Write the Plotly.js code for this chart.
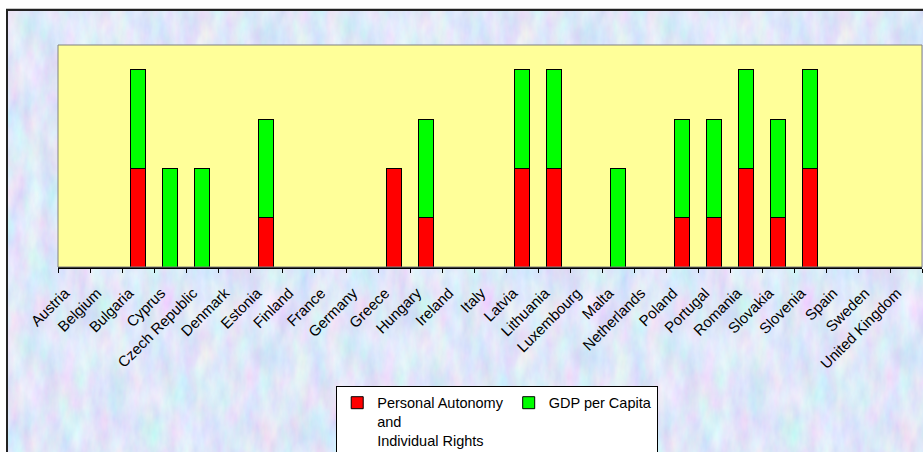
<!DOCTYPE html>
<html>
<head>
<meta charset="utf-8">
<script src="https://cdn.plot.ly/plotly-3.0.1.min.js"></script>
<style>
  html, body { margin:0; padding:0; background:#ffffff; width:923px; height:452px; overflow:hidden; }
  #frame {
    position:absolute; left:6px; top:9px; width:940px; height:470px;
    border-left:2px solid #222; border-top:2px solid #222;
    box-shadow: 0 -1px 0 #c8c8c8;
    background-color:#c4d0f2;
    background-image:url("data:image/svg+xml;utf8,<svg xmlns='http://www.w3.org/2000/svg' width='320' height='320'><filter id='n' x='0' y='0' width='100%25' height='100%25'><feTurbulence type='fractalNoise' baseFrequency='0.06 0.025' numOctaves='4' seed='11' stitchTiles='stitch'/><feColorMatrix values='0.45 0 0 0 0.51  0 0.42 0 0 0.59  0 0 0.2 0 0.84  0 0 0 0 1'/></filter><rect width='100%25' height='100%25' filter='url(%23n)'/></svg>");
  }
  #chart { position:absolute; left:0; top:0; width:923px; height:460px; }
</style>
</head>
<body>
<div id="frame"></div>
<div id="chart"></div>
<script>
const countries = ["Austria","Belgium","Bulgaria","Cyprus","Czech Republic","Denmark","Estonia",
  "Finland","France","Germany","Greece","Hungary","Ireland","Italy","Latvia","Lithuania",
  "Luxembourg","Malta","Netherlands","Poland","Portugal","Romania","Slovakia","Slovenia",
  "Spain","Sweden","United Kingdom"];
const autonomy = [0,0,2,0,0,0,1,0,0,0,2,1,0,0,2,2,0,0,0,1,1,2,1,2,0,0,0];
const gdp      = [0,0,2,2,2,0,2,0,0,0,0,2,0,0,2,2,0,2,0,2,2,2,2,2,0,0,0];
const seriesNames = ["Personal Autonomy<br>and<br>Individual Rights", "GDP per Capita"];

const traces = [
  {type:'bar', x:countries, y:autonomy, name:seriesNames[0],
   marker:{color:'#FF0000', line:{color:'#000000', width:1}}, hoverinfo:'skip'},
  {type:'bar', x:countries, y:gdp, name:seriesNames[1],
   marker:{color:'#00FF00', line:{color:'#000000', width:1}}, hoverinfo:'skip'}
];

const layout = {
  width:923, height:460,
  margin:{l:58, r:1, t:45, b:193, pad:0},
  paper_bgcolor:'rgba(0,0,0,0)',
  plot_bgcolor:'#FFFF99',
  barmode:'stack',
  bargap:0.56,
  showlegend:true,
  font:{family:'Liberation Sans, Arial, sans-serif', color:'#000'},
  xaxis:{
    type:'category', tickson:'boundaries', ticks:'outside', ticklen:4, tickwidth:1, tickcolor:'#000',
    showline:true, linecolor:'#000', linewidth:1.5, showgrid:false, zeroline:false,
    tickangle:-45, tickfont:{family:'Liberation Sans, Arial, sans-serif', size:15, color:'#000'},
    ticklabelstandoff:10, ticklabelshift:-9, fixedrange:true
  },
  yaxis:{
    range:[0,4.5], showticklabels:false, showgrid:false, zeroline:false, ticks:'',
    showline:false, fixedrange:true
  },
  shapes:[
    {type:'rect', xref:'paper', yref:'paper', x0:0, x1:1, y0:0, y1:1,
     line:{color:'#808080', width:1}, fillcolor:'rgba(0,0,0,0)', layer:'above'}
  ],
  legend:{
    orientation:'h', x:0.322, y:-0.535, xanchor:'left', yanchor:'top',
    bgcolor:'#FFFFFF', bordercolor:'#000000', borderwidth:1,
    font:{family:'Liberation Sans, Arial, sans-serif', size:14.5, color:'#000'},
    valign:'top', traceorder:'normal', itemclick:false, itemdoubleclick:false
  }
};

Plotly.newPlot('chart', traces, layout, {displayModeBar:false, staticPlot:true});
</script>
</body>
</html>
